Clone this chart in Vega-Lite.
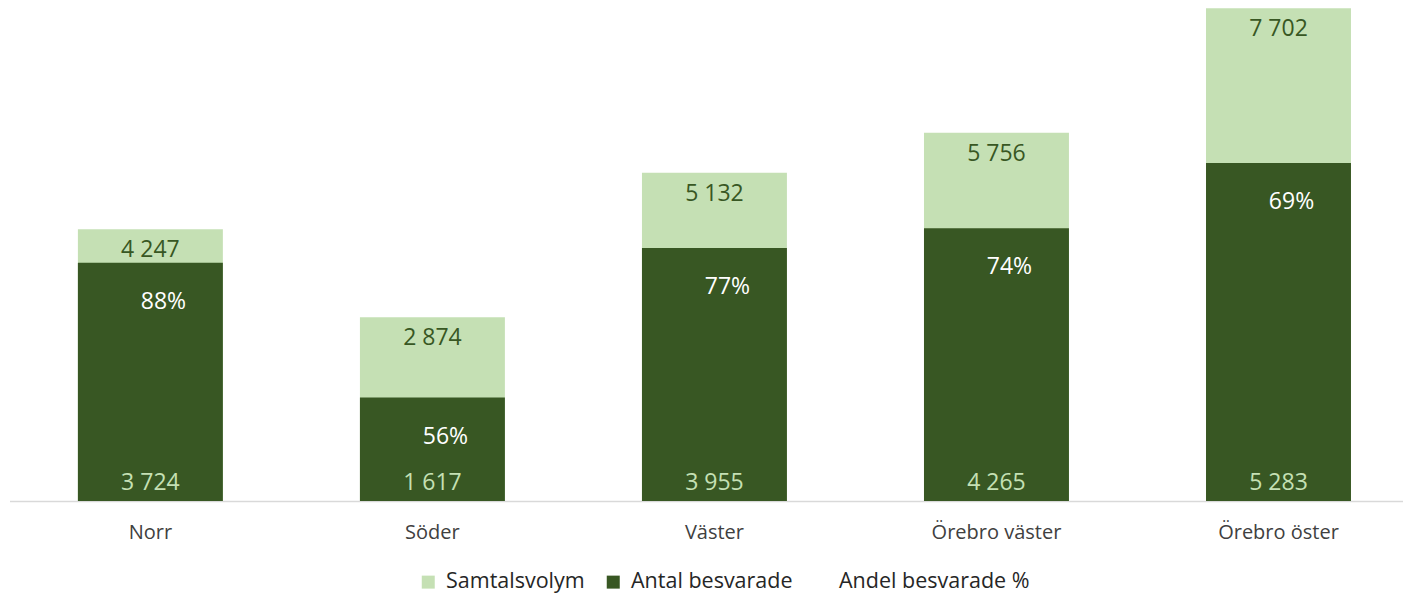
{
  "$schema": "https://vega.github.io/schema/vega-lite/v6.json",
  "width": 1393.5,
  "height": 501,
  "autosize": {"type": "none"},
  "padding": {"left": 9.5, "top": 0, "right": 0, "bottom": 95},
  "background": "white",
  "config": {
    "view": {"stroke": null},
    "font": "Open Sans",
    "locale": {"number": {"decimal": ",", "thousands": " ", "grouping": [3], "currency": ["", " kr"]}}
  },
  "data": {
    "values": [
      {"omrade": "Norr", "Samtalsvolym": 4247, "Antal besvarade": 3724, "Andel": 0.88},
      {"omrade": "Söder", "Samtalsvolym": 2874, "Antal besvarade": 1617, "Andel": 0.56},
      {"omrade": "Väster", "Samtalsvolym": 5132, "Antal besvarade": 3955, "Andel": 0.77},
      {"omrade": "Örebro väster", "Samtalsvolym": 5756, "Antal besvarade": 4265, "Andel": 0.74},
      {"omrade": "Örebro öster", "Samtalsvolym": 7702, "Antal besvarade": 5283, "Andel": 0.69}
    ]
  },
  "encoding": {
    "x": {
      "field": "omrade",
      "type": "nominal",
      "sort": null,
      "title": null,
      "scale": {"paddingInner": 0.486, "paddingOuter": 0.2135, "align": 0.568},
      "axis": {
        "labelAngle": 0,
        "ticks": false,
        "domainColor": "#D9D9D9",
        "domainWidth": 1.5,
        "labelFontSize": 20,
        "labelColor": "#404040",
        "labelPadding": 21,
        "grid": false
      }
    }
  },
  "layer": [
    {
      "transform": [{"fold": ["Samtalsvolym", "Antal besvarade"], "as": ["serie", "varde"]}],
      "mark": {"type": "bar"},
      "encoding": {
        "y": {"field": "varde", "type": "quantitative", "stack": null, "scale": {"domain": [0, 7831], "nice": false}, "axis": null},
        "color": {
          "field": "serie",
          "type": "nominal",
          "scale": {
            "domain": ["Samtalsvolym", "Antal besvarade", "Andel besvarade %"],
            "range": ["#C5E0B4", "#385723", "rgba(0,0,0,0)"]
          },
          "legend": {
            "title": null,
            "orient": "none",
            "legendX": 408,
            "legendY": 571,
            "direction": "horizontal",
            "symbolType": "square",
            "symbolSize": 169,
            "symbolStrokeWidth": 0,
            "labelFontSize": 21.5,
            "labelLimit": 0,
            "labelColor": "#262626",
            "labelOffset": 7,
            "columnPadding": 17
          }
        }
      }
    },
    {
      "mark": {"type": "text", "baseline": "middle", "dy": 21, "color": "#385723", "fontSize": 23},
      "encoding": {
        "y": {"field": "Samtalsvolym", "type": "quantitative", "scale": {"domain": [0, 7831], "nice": false}},
        "text": {"field": "Samtalsvolym", "type": "quantitative", "format": ",d"}
      }
    },
    {
      "mark": {"type": "text", "baseline": "middle", "dy": -18, "color": "#C5E0B4", "fontSize": 23},
      "encoding": {
        "y": {"datum": 0, "type": "quantitative", "scale": {"domain": [0, 7831], "nice": false}},
        "text": {"field": "Antal besvarade", "type": "quantitative", "format": ",d"}
      }
    },
    {
      "mark": {"type": "text", "baseline": "middle", "dy": 39, "dx": 13, "color": "white", "fontSize": 23},
      "encoding": {
        "y": {"field": "Antal besvarade", "type": "quantitative", "scale": {"domain": [0, 7831], "nice": false}},
        "text": {"field": "Andel", "type": "quantitative", "format": ".0%"}
      }
    }
  ]
}
